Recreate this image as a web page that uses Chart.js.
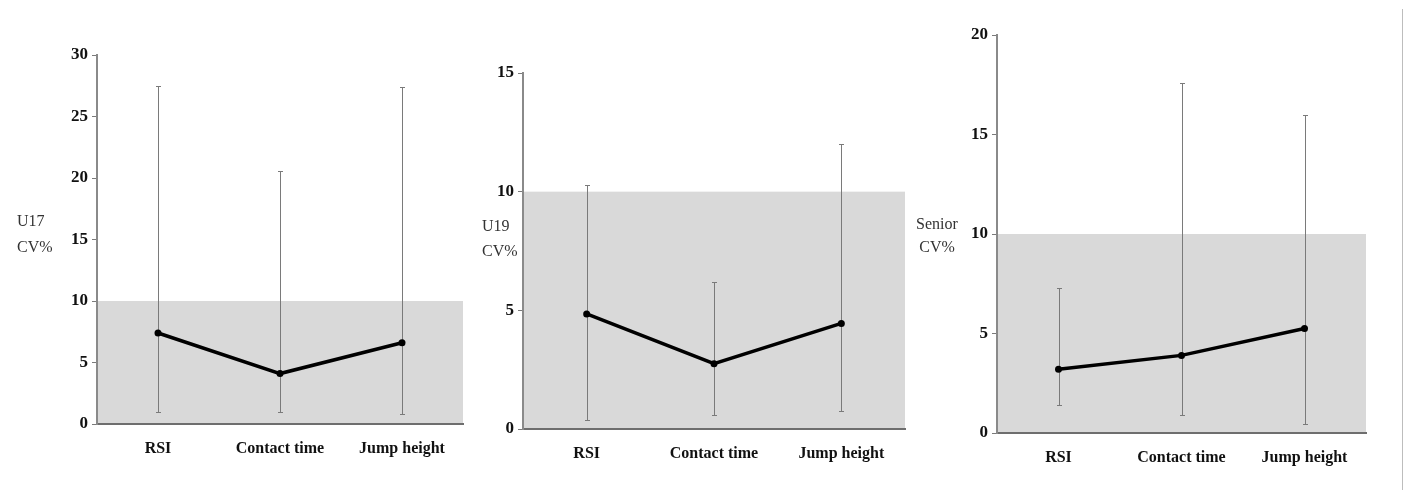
<!DOCTYPE html>
<html><head><meta charset="utf-8">
<script src="https://cdn.jsdelivr.net/npm/chart.js@4.4.1/dist/chart.umd.min.js"></script>
<style>
html,body{margin:0;padding:0;background:#fff;width:1405px;height:493px;overflow:hidden;position:relative}
canvas{position:absolute;top:0}
</style></head><body>
<canvas id="c1" width="470" height="493" style="left:0px"></canvas>
<canvas id="c2" width="440" height="493" style="left:470px"></canvas>
<canvas id="c3" width="495" height="493" style="left:910px"></canvas>
<script>
// ---- data ----
const categories = ['RSI', 'Contact time', 'Jump height'];

const u17Mean = [7.4, 4.1, 6.6];
const u17Low  = [1.0, 1.0, 0.8];
const u17High = [27.5, 20.6, 27.4];

const u19Mean = [4.85, 2.75, 4.45];
const u19Low  = [0.4, 0.6, 0.75];
const u19High = [10.3, 6.2, 12.0];

const seniorMean = [3.2, 3.9, 5.25];
const seniorLow  = [1.4, 0.9, 0.45];
const seniorHigh = [7.3, 17.6, 16.0];

const u17Ticks = [0, 5, 10, 15, 20, 25, 30];
const u19Ticks = [0, 5, 10, 15];
const seniorTicks = [0, 5, 10, 15, 20];

const bandRange = [0, 10];
const titles = [['U17', 'CV%'], ['U19', 'CV%'], ['Senior', 'CV%']];

// ---- plugins ----
const bandPlugin = {
  id: 'band',
  beforeDraw(chart, args, o) {
    const {ctx, chartArea: a, scales: {y}} = chart;
    const t = y.getPixelForValue(o.range[1]), b = y.getPixelForValue(o.range[0]);
    ctx.save();
    ctx.fillStyle = o.color;
    ctx.fillRect(a.left, t, a.right - a.left, b - t);
    ctx.restore();
  }
};
const errPlugin = {
  id: 'errbars',
  beforeDatasetsDraw(chart, args, o) {
    const {ctx, scales: {x, y}} = chart;
    ctx.save();
    ctx.strokeStyle = o.color;
    ctx.lineWidth = 1;
    o.low.forEach((lo, i) => {
      const px = Math.round(x.getPixelForValue(i)) + 0.5;
      const p1 = Math.round(y.getPixelForValue(lo)) + 0.5;
      const p2 = Math.round(y.getPixelForValue(o.high[i])) + 0.5;
      ctx.beginPath();
      ctx.moveTo(px, p1); ctx.lineTo(px, p2);
      ctx.moveTo(px - 2.5, p1); ctx.lineTo(px + 2.5, p1);
      ctx.moveTo(px - 2.5, p2); ctx.lineTo(px + 2.5, p2);
      ctx.stroke();
    });
    ctx.restore();
  }
};
const sideTitle = {
  id: 'sideTitle',
  afterDraw(chart, args, o) {
    const ctx = chart.ctx;
    ctx.save();
    ctx.fillStyle = '#333';
    ctx.font = '16px "Liberation Serif", "Times New Roman", serif';
    ctx.textBaseline = 'middle';
    ctx.textAlign = o.align;
    o.lines.forEach((t, i) => ctx.fillText(t, o.x, o.ys[i]));
    if (o.rightLine) {
      ctx.strokeStyle = '#bdbdbd';
      ctx.lineWidth = 1;
      ctx.beginPath();
      ctx.moveTo(chart.width - 2.5, 9);
      ctx.lineTo(chart.width - 2.5, 490);
      ctx.stroke();
    }
    ctx.restore();
  }
};

function makeChart(id, mean, low, high, ticks, title, L) {
  return new Chart(document.getElementById(id), {
    type: 'line',
    data: {
      labels: categories,
      datasets: [{
        data: mean,
        borderColor: '#000',
        backgroundColor: '#000',
        borderWidth: 3.5,
        pointRadius: 3.5,
        pointBackgroundColor: '#000',
        pointBorderWidth: 0,
        tension: 0
      }]
    },
    options: {
      responsive: false,
      animation: false,
      devicePixelRatio: 1,
      layout: {padding: {left: 0, right: L.padRight, top: L.padTop, bottom: 0}},
      plugins: {
        legend: {display: false},
        tooltip: {enabled: false},
        band: {range: bandRange, color: '#d9d9d9'},
        errbars: {low: low, high: high, color: '#7a7a7a'},
        sideTitle: {lines: title, x: L.tx, ys: L.tys, align: L.talign, rightLine: !!L.rightLine}
      },
      scales: {
        x: {
          offset: true,
          grid: {display: true, drawOnChartArea: false, drawTicks: false, offset: true},
          border: {display: true, color: '#6e6e6e', width: 2},
          ticks: {
            color: '#111',
            padding: 15,
            font: {family: '"Liberation Serif", "Times New Roman", serif', size: 16, weight: 'bold'}
          },
          afterFit(s) { s.height = L.xHeight; }
        },
        y: {
          min: ticks[0],
          max: ticks[ticks.length - 1],
          afterBuildTicks(s) { s.ticks = ticks.map(v => ({value: v})); },
          grid: {display: true, drawOnChartArea: false, drawTicks: true, tickLength: 5, color: '#7a7a7a', lineWidth: 1},
          border: {display: true, color: '#8a8a8a', width: 2},
          ticks: {
            color: '#111',
            padding: 4,
            font: {family: '"Liberation Serif", "Times New Roman", serif', size: 17, weight: 'bold'}
          },
          afterFit(s) { s.width = L.yWidth; }
        }
      }
    },
    plugins: [bandPlugin, errPlugin, sideTitle]
  });
}

makeChart('c1', u17Mean, u17Low, u17High, u17Ticks, titles[0],
  {yWidth: 97, padTop: 55, xHeight: 69, padRight: 7, tx: 17, tys: [222, 248], talign: 'left'});
makeChart('c2', u19Mean, u19Low, u19High, u19Ticks, titles[1],
  {yWidth: 53, padTop: 73, xHeight: 64, padRight: 5, tx: 12, tys: [227, 252], talign: 'left'});
makeChart('c3', seniorMean, seniorLow, seniorHigh, seniorTicks, titles[2],
  {yWidth: 87, padTop: 35, xHeight: 60, padRight: 39, tx: 27, tys: [225, 248], talign: 'center', rightLine: true});
</script>
</body></html>
